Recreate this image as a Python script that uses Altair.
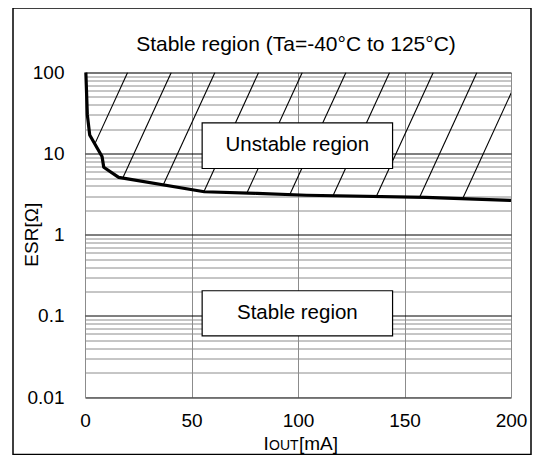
import altair as alt
import numpy as np
import pandas as pd

FONT = "Liberation Sans"

# ---- data ----
curve_x = [0.4, 1.1, 2.2, 8.0, 8.8, 15.8, 56, 80.7, 104, 160, 200]
curve_y = [100, 30, 17, 9.2, 6.8, 5.1, 3.39, 3.24, 3.07, 2.89, 2.65]
hatch_top = [20, 40.5, 61, 81.5, 102, 122.5, 143, 163.5, 184, 204.5]
hatch_run = 17.5  # mA shift per decade of each hatch line
x_ticks = [0, 50, 100, 150, 200]
decades = [0.01, 0.1, 1, 10]
y_grid = sorted(set([round(d * m, 6) for d in decades for m in range(1, 10)] + [100.0]))

W, H = 426, 324.5

curve = pd.DataFrame({"x": curve_x, "y": curve_y})

# hatch lines: from the top edge down to where they meet the curve
logc = np.log10(curve_y)
xs = np.linspace(curve_x[0], curve_x[-1], 40001)
Ls = np.interp(xs, curve_x, logc)
rows = []
for t in hatch_top:
    f = xs - (t - hatch_run * (2 - Ls))
    idx = int(np.argmax(f >= 0))
    rows.append({"x": t, "y": 100.0, "x2": float(xs[idx]), "y2": float(10 ** Ls[idx])})
hatch = pd.DataFrame(rows)

xsc = alt.Scale(domain=[0, 200], nice=False, zero=False)
ysc = alt.Scale(type="log", domain=[0.01, 100], nice=False)

major = "abs(log(datum.value)/LN10 - round(log(datum.value)/LN10)) < 0.000001"

x_axis = alt.Axis(values=x_ticks, title=None, ticks=False, domain=False,
                  gridColor="#8c8c8c", labelFont=FONT, labelFontSize=19,
                  labelColor="black", labelPadding=14, labelFlush=False,
                  labelOverlap=False)
y_axis = alt.Axis(values=y_grid, title=None, ticks=False, domain=False,
                  gridColor={"condition": {"test": major, "value": "#000000"}, "value": "#8c8c8c"},
                  labelExpr=f"({major}) ? toString(datum.value) : ''",
                  labelFont=FONT, labelFontSize=19, labelColor="black",
                  labelPadding=21, labelOverlap=False)

line = alt.Chart(curve).mark_line(color="black", strokeWidth=3.2, strokeJoin="round").encode(
    x=alt.X("x:Q", scale=xsc, axis=x_axis),
    y=alt.Y("y:Q", scale=ysc, axis=y_axis),
)

hatch_layer = alt.Chart(hatch).mark_rule(color="black", strokeWidth=1.1, clip=True).encode(
    x=alt.X("x:Q", scale=xsc), y=alt.Y("y:Q", scale=ysc),
    x2="x2:Q", y2="y2:Q",
)

one = pd.DataFrame({"k": [0]})

def box(x1, x2, y1, y2):
    return alt.Chart(one).mark_rect(fill="white", stroke="black", strokeWidth=1.2).encode(
        x=alt.X(datum=x1, type="quantitative", scale=xsc),
        x2=alt.datum(x2),
        y=alt.Y(datum=y1, type="quantitative", scale=ysc),
        y2=alt.datum(y2))

def dlabel(txt, x, y, size=20.5):
    return alt.Chart(one).mark_text(text=txt, font=FONT, fontSize=size, color="black",
                                    align="center", baseline="middle").encode(
        x=alt.X(datum=x, type="quantitative", scale=xsc),
        y=alt.Y(datum=y, type="quantitative", scale=ysc))

def label(txt, x, y, size=20, align="center", baseline="middle", angle=0):
    return alt.Chart(one).mark_text(text=txt, font=FONT, fontSize=size, color="black",
                                    align=align, baseline=baseline, angle=angle).encode(
        x=alt.value(x), y=alt.value(y))

box1 = box(55, 144.4, 23.9, 6.56)
box2 = box(55, 144.4, 0.204, 0.0566)
t1 = dlabel("Unstable region", 99.7, 12.6)
t2 = dlabel("Stable region", 99.7, 0.108)
title = label("Stable region (Ta=-40°C to 125°C)", 211, -27.5, size=21)
ytitle = label("ESR[Ω]", -53, H / 2, size=19, angle=270)
xt_i = label("I", 178.5, 377, size=19, align="left", baseline="alphabetic")
xt_out = label("OUT", 184, 377, size=14, align="left", baseline="alphabetic")
xt_ma = label("[mA]", 214, 377, size=19, align="left", baseline="alphabetic")

frame = alt.Chart(one).mark_rect(fill="white", fillOpacity=0, stroke="black", strokeWidth=1.5).encode(
    x=alt.value(-72), x2=alt.value(446), y=alt.value(-64.5), y2=alt.value(382))

chart = alt.layer(
    line.mark_line(opacity=0), hatch_layer, line, box1, box2, t1, t2, title, ytitle,
    xt_i, xt_out, xt_ma, frame,
).properties(
    width=W, height=H,
    autosize=alt.AutoSizeParams(type="none"),
    padding={"left": 77, "top": 64.5, "right": 23, "bottom": 58},
).configure_view(stroke="black", strokeWidth=1.6).configure(background="white")

chart.save("out.html", embed_options={"renderer": "svg", "actions": False})
